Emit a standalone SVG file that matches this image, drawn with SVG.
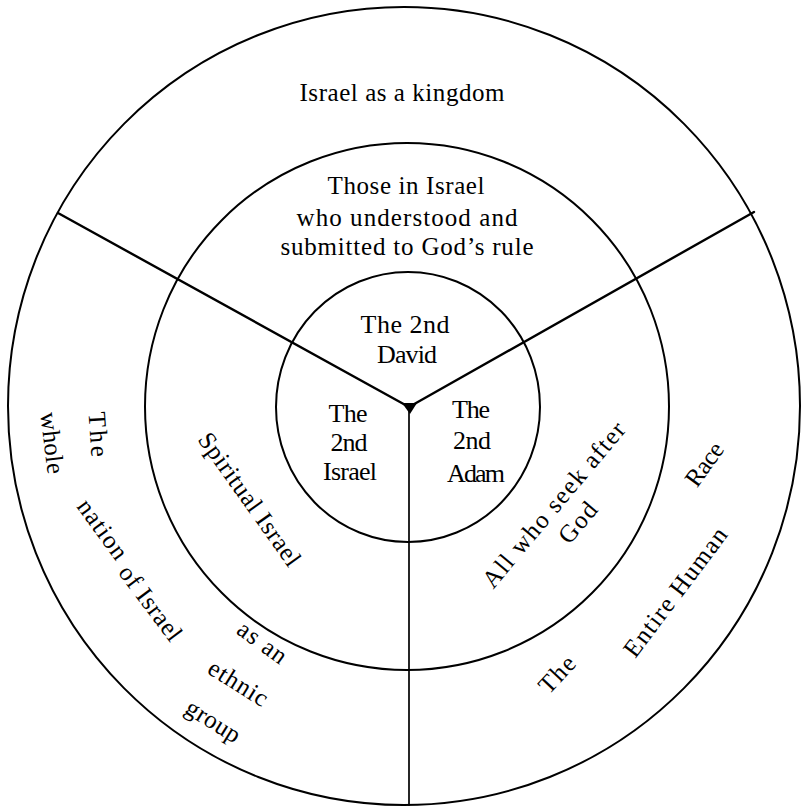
<svg xmlns="http://www.w3.org/2000/svg" width="802" height="807" viewBox="0 0 802 807">
<style>
.ring{fill:none;stroke:#000;stroke-width:2}
.spoke{fill:none;stroke:#000;stroke-width:2.4;stroke-linecap:round}
.t{font-family:"Liberation Serif","Times New Roman",serif;font-size:25px;fill:#000;text-anchor:middle}
.i{font-size:26px}
</style>
<rect width="802" height="807" fill="#fff"/>
<g id="outer-ring">
<ellipse class="ring" cx="404" cy="406" rx="396" ry="399"/>
</g>
<g id="middle-ring">
<ellipse class="ring" cx="407" cy="406.5" rx="262" ry="263.5"/>
</g>
<g id="inner-ring">
<ellipse class="ring" cx="408" cy="407" rx="132" ry="135"/>
</g>
<g id="connectors">
<line class="spoke" x1="409" y1="407" x2="58" y2="213"/>
<line class="spoke" x1="409" y1="407" x2="754" y2="212"/>
<line class="spoke" x1="409" y1="407" x2="409" y2="805" style="stroke-width:1.7"/>
<polygon points="402,403 417,403 410,414" fill="#000"/>
</g>
<g id="node-kingdom">
<text class="t" x="402" y="101" textLength="205" lengthAdjust="spacing">Israel as a kingdom</text>
</g>
<g id="node-understood">
<text class="t" x="406" y="194" textLength="157" lengthAdjust="spacing">Those in Israel</text>
<text class="t" x="407" y="226" textLength="221" lengthAdjust="spacing">who understood and</text>
<text class="t" x="407" y="255" textLength="253" lengthAdjust="spacing">submitted to God’s rule</text>
</g>
<g id="node-david">
<text class="t i" x="405" y="333" textLength="89" lengthAdjust="spacing">The 2nd</text>
<text class="t i" x="407" y="363" textLength="60" lengthAdjust="spacing">David</text>
</g>
<g id="node-2nd-israel">
<text class="t i" x="348" y="422" textLength="39" lengthAdjust="spacing">The</text>
<text class="t i" x="349" y="451" textLength="37" lengthAdjust="spacing">2nd</text>
<text class="t i" x="350" y="480" textLength="54" lengthAdjust="spacing">Israel</text>
</g>
<g id="node-adam">
<text class="t i" x="471" y="418" textLength="38" lengthAdjust="spacing">The</text>
<text class="t i" x="472" y="449" textLength="38" lengthAdjust="spacing">2nd</text>
<text class="t i" x="476" y="482" textLength="58" lengthAdjust="spacing">Adam</text>
</g>
<g id="node-spiritual">
<text class="t" transform="translate(243 504) rotate(54.5)" textLength="158" lengthAdjust="spacing">Spiritual Israel</text>
</g>
<g id="node-seek">
<text class="t" transform="translate(560 510) rotate(-50)" textLength="208" lengthAdjust="spacing">All who seek after</text>
<text class="t" transform="translate(584 528) rotate(-50)" textLength="46" lengthAdjust="spacing">God</text>
</g>
<g id="node-nation">
<text class="t" transform="translate(90 435) rotate(86)" textLength="45" lengthAdjust="spacing">The</text>
<text class="t" transform="translate(44 444) rotate(83)" textLength="62" lengthAdjust="spacing">whole</text>
<text class="t" transform="translate(96 534) rotate(54)" textLength="68" lengthAdjust="spacing">nation</text>
<text class="t" transform="translate(144 608) rotate(53)" textLength="88" lengthAdjust="spacing">of Israel</text>
<text class="t" transform="translate(257.6 649) rotate(36)" textLength="55" lengthAdjust="spacing">as an</text>
<text class="t" transform="translate(234 690) rotate(32)" textLength="66" lengthAdjust="spacing">ethnic</text>
<text class="t" transform="translate(209 728) rotate(32)" textLength="60" lengthAdjust="spacing">group</text>
</g>
<g id="node-human">
<text class="t" transform="translate(711 469) rotate(-54)" textLength="48" lengthAdjust="spacing">Race</text>
<text class="t" transform="translate(682 597) rotate(-53)" textLength="155" lengthAdjust="spacing">Entire Human</text>
<text class="t" transform="translate(563 680) rotate(-47)" textLength="42" lengthAdjust="spacing">The</text>
</g>
</svg>
